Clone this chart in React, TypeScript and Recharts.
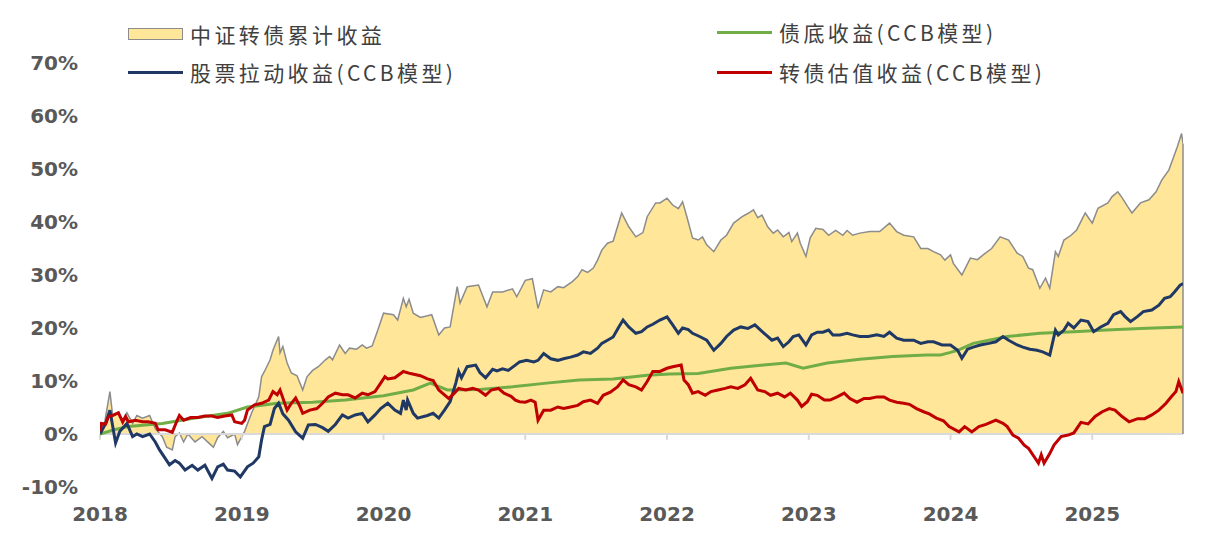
import { ComposedChart, Area, Line, XAxis, YAxis, ReferenceLine, Legend } from "recharts";

// [decimal year, cumulative %]
const cumulative: [number, number][] = [
  [2018.0, 0], [2018.035, 2.5], [2018.07, 8.0], [2018.09, 3.3], [2018.13, 4.0], [2018.16, 2.0],
  [2018.19, 4.0], [2018.23, 2.0], [2018.26, 3.5], [2018.3, 3.0], [2018.35, 3.5], [2018.39, 1.0],
  [2018.44, -0.5], [2018.47, -2.5], [2018.51, -3.0], [2018.53, -0.5], [2018.56, 0.2], [2018.59, -1.5],
  [2018.62, 0], [2018.67, -1.5], [2018.72, -0.5], [2018.78, -2.0], [2018.8, -2.5], [2018.83, -0.7],
  [2018.87, 0.5], [2018.9, -0.7], [2018.95, 0], [2018.97, -2.0], [2019.0, -0.5], [2019.02, 0.5],
  [2019.07, 4.0], [2019.12, 7.0], [2019.14, 10.8], [2019.16, 11.8], [2019.2, 14.0], [2019.22, 15.8],
  [2019.26, 18.4], [2019.27, 15.3], [2019.29, 16.5], [2019.32, 13.4], [2019.35, 11.5], [2019.39, 11.0],
  [2019.43, 8.3], [2019.46, 10.8], [2019.5, 12.0], [2019.54, 12.7], [2019.59, 14.0], [2019.62, 14.6],
  [2019.64, 14.0], [2019.69, 16.8], [2019.73, 15.2], [2019.76, 16.2], [2019.81, 16.0], [2019.85, 16.8],
  [2019.88, 16.2], [2019.92, 16.6], [2019.96, 19.6], [2020.0, 22.8], [2020.07, 22.5], [2020.1, 21.5],
  [2020.14, 25.6], [2020.16, 24.0], [2020.18, 25.4], [2020.21, 22.8], [2020.26, 22.0], [2020.31, 22.3],
  [2020.34, 22.5], [2020.39, 18.7], [2020.43, 20.0], [2020.47, 20.2], [2020.52, 27.8], [2020.54, 24.7],
  [2020.59, 27.8], [2020.67, 28.1], [2020.73, 24.0], [2020.77, 26.8], [2020.84, 26.8], [2020.91, 27.4],
  [2020.94, 25.9], [2021.0, 29.0], [2021.05, 29.3], [2021.09, 23.7], [2021.13, 27.2], [2021.18, 26.8],
  [2021.23, 27.8], [2021.27, 27.6], [2021.33, 28.7], [2021.37, 29.7], [2021.4, 31.0], [2021.44, 30.5],
  [2021.48, 31.3], [2021.51, 32.8], [2021.54, 34.7], [2021.58, 36.0], [2021.62, 36.4], [2021.68, 41.7],
  [2021.73, 39.1], [2021.78, 37.2], [2021.83, 38.0], [2021.86, 41.0], [2021.92, 43.6], [2021.95, 43.6],
  [2022.0, 44.5], [2022.04, 43.2], [2022.08, 42.5], [2022.11, 43.8], [2022.14, 41.0], [2022.18, 37.0],
  [2022.22, 36.6], [2022.25, 37.2], [2022.28, 35.7], [2022.33, 34.4], [2022.38, 36.6], [2022.42, 37.5],
  [2022.47, 39.8], [2022.53, 41.0], [2022.57, 41.6], [2022.61, 42.3], [2022.64, 40.8], [2022.67, 41.3],
  [2022.71, 39.1], [2022.75, 37.9], [2022.78, 38.5], [2022.82, 37.2], [2022.86, 38.0], [2022.88, 36.3],
  [2022.92, 37.9], [2022.94, 36.0], [2022.98, 33.5], [2023.01, 37.0], [2023.05, 38.8], [2023.1, 38.6],
  [2023.14, 37.5], [2023.19, 38.4], [2023.24, 37.5], [2023.27, 38.4], [2023.31, 37.5], [2023.36, 37.9],
  [2023.43, 38.2], [2023.5, 38.2], [2023.57, 39.8], [2023.62, 38.2], [2023.67, 37.5], [2023.74, 37.2],
  [2023.79, 35.0], [2023.84, 35.0], [2023.88, 34.4], [2023.93, 33.8], [2023.96, 32.8], [2024.0, 33.8],
  [2024.02, 32.2], [2024.08, 30.0], [2024.14, 33.2], [2024.19, 32.9], [2024.23, 33.8], [2024.29, 35.0],
  [2024.35, 37.2], [2024.41, 36.6], [2024.47, 34.1], [2024.51, 33.5], [2024.55, 31.3], [2024.58, 31.0],
  [2024.63, 27.5], [2024.67, 29.4], [2024.7, 27.5], [2024.74, 34.4], [2024.76, 33.5], [2024.8, 36.6],
  [2024.85, 37.5], [2024.89, 38.5], [2024.95, 41.7], [2025.0, 39.8], [2025.04, 42.6], [2025.11, 43.6],
  [2025.14, 44.8], [2025.18, 45.7], [2025.21, 44.6], [2025.25, 42.9], [2025.28, 41.7], [2025.34, 43.6],
  [2025.4, 44.2], [2025.45, 45.7], [2025.49, 47.9], [2025.54, 49.8], [2025.57, 52.0], [2025.6, 54.2],
  [2025.63, 56.7], [2025.64, 54.8],
];

const equityPull: [number, number][] = [
  [2018.0, 0], [2018.04, 2.0], [2018.07, 4.5], [2018.11, -1.7], [2018.14, 0.5], [2018.19, 2.0],
  [2018.23, -0.5], [2018.26, 0], [2018.3, -0.5], [2018.35, 0], [2018.39, -1.5], [2018.42, -3.0],
  [2018.46, -4.6], [2018.49, -5.8], [2018.53, -5.0], [2018.56, -5.5], [2018.6, -6.8], [2018.65, -5.9],
  [2018.69, -6.8], [2018.74, -5.9], [2018.79, -8.4], [2018.83, -6.2], [2018.87, -5.7], [2018.9, -6.8],
  [2018.95, -7.0], [2018.99, -8.1], [2019.04, -6.2], [2019.08, -5.5], [2019.12, -4.3], [2019.14, -1.1],
  [2019.16, 1.4], [2019.2, 1.8], [2019.23, 4.8], [2019.26, 5.8], [2019.29, 3.8], [2019.33, 2.6],
  [2019.38, 0.4], [2019.43, -0.8], [2019.47, 1.7], [2019.52, 1.8], [2019.57, 1.2], [2019.61, 0.5],
  [2019.66, 1.8], [2019.71, 3.6], [2019.75, 3.0], [2019.8, 3.6], [2019.85, 3.9], [2019.89, 2.3],
  [2019.94, 3.6], [2019.98, 4.8], [2020.03, 5.8], [2020.08, 4.5], [2020.12, 3.9], [2020.14, 6.4],
  [2020.16, 4.5], [2020.17, 6.4], [2020.21, 3.9], [2020.24, 3.0], [2020.31, 3.5], [2020.35, 3.9],
  [2020.39, 3.0], [2020.43, 4.5], [2020.47, 6.1], [2020.51, 9.6], [2020.53, 11.8], [2020.55, 10.6],
  [2020.59, 12.7], [2020.65, 13.0], [2020.68, 11.6], [2020.72, 10.6], [2020.77, 12.2], [2020.8, 11.9],
  [2020.84, 12.3], [2020.88, 12.0], [2020.93, 13.0], [2020.96, 13.6], [2021.01, 13.9], [2021.06, 13.6],
  [2021.09, 13.9], [2021.13, 15.2], [2021.18, 14.2], [2021.23, 13.9], [2021.27, 14.2], [2021.32, 14.5],
  [2021.37, 14.9], [2021.41, 15.5], [2021.46, 15.2], [2021.51, 16.2], [2021.54, 17.1], [2021.58, 17.7],
  [2021.62, 18.3], [2021.66, 20.2], [2021.69, 21.5], [2021.73, 20.2], [2021.78, 19.0], [2021.82, 19.3],
  [2021.86, 20.2], [2021.9, 20.7], [2021.95, 21.5], [2022.0, 22.1], [2022.04, 20.6], [2022.08, 19.0],
  [2022.11, 20.0], [2022.15, 19.7], [2022.18, 19.0], [2022.23, 18.4], [2022.28, 17.7], [2022.33, 15.8],
  [2022.38, 17.1], [2022.42, 18.4], [2022.47, 19.6], [2022.52, 20.2], [2022.57, 19.9], [2022.62, 20.6],
  [2022.66, 19.6], [2022.71, 18.4], [2022.74, 17.7], [2022.78, 18.1], [2022.82, 16.5], [2022.86, 17.4],
  [2022.89, 18.4], [2022.93, 18.7], [2022.98, 16.8], [2023.02, 18.7], [2023.06, 19.2], [2023.1, 19.2],
  [2023.14, 19.6], [2023.17, 18.7], [2023.22, 18.7], [2023.27, 19.0], [2023.31, 18.7], [2023.36, 18.4],
  [2023.42, 18.4], [2023.48, 18.7], [2023.53, 18.4], [2023.57, 19.2], [2023.62, 18.1], [2023.67, 17.7],
  [2023.74, 17.7], [2023.79, 17.1], [2023.84, 17.4], [2023.88, 17.4], [2023.94, 16.8], [2024.0, 16.8],
  [2024.05, 15.8], [2024.08, 14.3], [2024.12, 16.0], [2024.16, 16.4], [2024.21, 16.8], [2024.27, 17.1],
  [2024.32, 17.4], [2024.37, 18.4], [2024.41, 17.7], [2024.47, 16.8], [2024.51, 16.4], [2024.56, 16.0],
  [2024.61, 15.8], [2024.65, 15.5], [2024.7, 14.9], [2024.74, 19.6], [2024.76, 18.7], [2024.8, 19.6],
  [2024.83, 20.9], [2024.87, 20.0], [2024.92, 21.5], [2024.97, 21.2], [2025.01, 19.3], [2025.06, 20.2],
  [2025.11, 20.9], [2025.15, 22.5], [2025.2, 23.1], [2025.23, 22.2], [2025.27, 21.2], [2025.32, 22.2],
  [2025.36, 23.1], [2025.42, 23.4], [2025.47, 24.3], [2025.51, 25.6], [2025.55, 25.9], [2025.58, 26.8],
  [2025.62, 28.1], [2025.64, 28.4],
];

const bondFloor: [number, number][] = [
  [2018.0, 0], [2018.1, 0.8], [2018.2, 1.4], [2018.44, 2.0], [2018.67, 3.0], [2018.9, 3.9],
  [2019.04, 5.1], [2019.25, 5.8], [2019.5, 6.0], [2019.73, 6.4], [2020.0, 7.2], [2020.21, 8.3],
  [2020.33, 9.6], [2020.45, 8.3], [2020.68, 8.4], [2020.91, 8.9], [2021.15, 9.6], [2021.38, 10.2],
  [2021.62, 10.4], [2021.86, 11.1], [2022.02, 11.3], [2022.22, 11.4], [2022.45, 12.4], [2022.68, 13.0],
  [2022.84, 13.4], [2022.96, 12.4], [2023.13, 13.4], [2023.36, 14.1], [2023.59, 14.6], [2023.83, 14.9],
  [2023.93, 14.9], [2024.0, 15.4], [2024.05, 15.8], [2024.16, 17.1], [2024.4, 18.4], [2024.63, 19.0],
  [2024.87, 19.3], [2025.1, 19.6], [2025.34, 19.9], [2025.64, 20.2],
];

const valuation: [number, number][] = [
  [2018.0, 0.5], [2018.01, 2.0], [2018.04, 1.9], [2018.06, 3.3], [2018.09, 3.5], [2018.13, 4.0],
  [2018.16, 2.3], [2018.18, 3.3], [2018.2, 2.3], [2018.25, 2.6], [2018.3, 2.3], [2018.34, 2.3],
  [2018.39, 2.0], [2018.41, 0.8], [2018.46, 0.8], [2018.51, 0.3], [2018.54, 2.3], [2018.56, 3.5],
  [2018.59, 2.6], [2018.64, 3.1], [2018.69, 3.1], [2018.74, 3.4], [2018.79, 3.4], [2018.83, 3.1],
  [2018.88, 3.4], [2018.93, 3.6], [2018.95, 2.3], [2019.0, 2.0], [2019.02, 2.6], [2019.04, 4.5],
  [2019.09, 5.5], [2019.14, 5.8], [2019.19, 6.4], [2019.22, 8.0], [2019.25, 7.4], [2019.27, 8.3],
  [2019.29, 6.8], [2019.32, 4.5], [2019.35, 5.8], [2019.38, 6.8], [2019.41, 5.2], [2019.43, 3.9],
  [2019.48, 4.5], [2019.53, 4.8], [2019.57, 5.8], [2019.61, 7.0], [2019.66, 7.7], [2019.71, 7.4],
  [2019.75, 7.4], [2019.8, 6.8], [2019.85, 7.7], [2019.89, 7.4], [2019.94, 8.0], [2019.98, 9.6],
  [2020.01, 10.8], [2020.03, 10.4], [2020.08, 10.6], [2020.14, 11.8], [2020.19, 11.4], [2020.26, 11.0],
  [2020.31, 10.4], [2020.35, 10.1], [2020.39, 8.3], [2020.43, 7.4], [2020.46, 6.7], [2020.5, 7.7],
  [2020.53, 8.6], [2020.58, 8.3], [2020.63, 8.6], [2020.67, 8.3], [2020.72, 7.3], [2020.76, 8.3],
  [2020.81, 8.6], [2020.85, 7.7], [2020.9, 7.1], [2020.93, 6.4], [2020.96, 6.1], [2021.0, 6.0],
  [2021.04, 6.4], [2021.07, 6.0], [2021.09, 2.6], [2021.13, 4.5], [2021.18, 4.5], [2021.23, 5.1],
  [2021.27, 4.8], [2021.32, 5.1], [2021.37, 5.4], [2021.41, 6.1], [2021.46, 6.4], [2021.51, 5.8],
  [2021.55, 7.3], [2021.6, 7.9], [2021.65, 8.9], [2021.69, 10.2], [2021.73, 9.3], [2021.78, 8.9],
  [2021.82, 8.3], [2021.86, 9.9], [2021.9, 11.8], [2021.95, 11.8], [2022.0, 12.4], [2022.04, 12.7],
  [2022.1, 13.0], [2022.12, 10.2], [2022.15, 9.3], [2022.18, 7.7], [2022.22, 8.0], [2022.27, 7.3],
  [2022.31, 8.0], [2022.36, 8.3], [2022.41, 8.6], [2022.45, 8.9], [2022.5, 8.6], [2022.55, 9.3],
  [2022.59, 10.5], [2022.64, 8.3], [2022.69, 8.0], [2022.73, 7.3], [2022.78, 7.7], [2022.83, 7.0],
  [2022.87, 7.7], [2022.92, 6.4], [2022.95, 5.2], [2022.99, 6.1], [2023.02, 7.5], [2023.06, 7.3],
  [2023.11, 6.4], [2023.15, 6.4], [2023.2, 7.0], [2023.25, 7.7], [2023.29, 6.7], [2023.34, 6.0],
  [2023.39, 6.7], [2023.43, 6.7], [2023.48, 7.0], [2023.53, 7.0], [2023.57, 6.4], [2023.62, 6.0],
  [2023.67, 5.8], [2023.71, 5.6], [2023.76, 4.8], [2023.81, 4.2], [2023.85, 3.8], [2023.9, 3.0],
  [2023.95, 2.5], [2023.99, 1.4], [2024.06, 0.4], [2024.1, 1.4], [2024.15, 0.4], [2024.2, 1.4],
  [2024.25, 1.8], [2024.32, 2.6], [2024.37, 2.0], [2024.4, 1.4], [2024.44, -0.2], [2024.48, -0.8],
  [2024.52, -2.1], [2024.55, -2.7], [2024.59, -4.3], [2024.62, -5.5], [2024.64, -3.9], [2024.66, -5.5],
  [2024.7, -3.7], [2024.73, -2.1], [2024.78, -0.5], [2024.83, -0.2], [2024.87, 0.2], [2024.92, 2.2],
  [2024.97, 1.9], [2025.02, 3.3], [2025.07, 4.2], [2025.12, 4.8], [2025.16, 4.5], [2025.21, 3.3],
  [2025.26, 2.3], [2025.32, 2.9], [2025.37, 2.9], [2025.42, 3.6], [2025.47, 4.5], [2025.52, 5.8],
  [2025.55, 6.8], [2025.59, 8.0], [2025.61, 9.9], [2025.64, 7.7],
];

const yearTicks = [2018, 2019, 2020, 2021, 2022, 2023, 2024, 2025];
const pctTicks = [-10, 0, 10, 20, 30, 40, 50, 60, 70];

const legendNames = [
  "中证转债累计收益",
  "股票拉动收益(CCB模型)",
  "债底收益(CCB模型)",
  "转债估值收益(CCB模型)",
];

const AREA_FILL = "#FFE699";
const AREA_STROKE = "#8C8C8C";
const BLUE = "#1F3864";
const GREEN = "#70AD47";
const RED = "#C00000";
const TEXT = "#595959";

const toRows = (pts: [number, number][]) => pts.map(([t, v]) => ({ t, v }));

const cumRows = toRows(cumulative);
const lastCum = cumulative[cumulative.length - 1];

function LegendBox() {
  const items = [
    { name: legendNames[0], kind: "area", color: AREA_FILL, left: 120, mid: 26 },
    { name: legendNames[1], kind: "line", color: BLUE, left: 120, mid: 64 },
    { name: legendNames[2], kind: "line", color: GREEN, left: 709, mid: 24 },
    { name: legendNames[3], kind: "line", color: RED, left: 709, mid: 64 },
  ];
  return (
    <div style={{ position: "relative", width: 1190, height: 90 }}>
      {items.map((it) => (
        <div
          key={it.name}
          style={{
            position: "absolute",
            left: it.left,
            top: it.mid - 16,
            height: 32,
            display: "flex",
            alignItems: "center",
            whiteSpace: "nowrap",
          }}
        >
          {it.kind === "area" ? (
            <div
              style={{
                width: 55,
                height: 12,
                background: it.color,
                border: `1.5px solid ${AREA_STROKE}`,
                boxSizing: "border-box",
              }}
            />
          ) : (
            <div style={{ width: 55, height: 3, background: it.color }} />
          )}
          <span
            style={{
              marginLeft: 7,
              fontFamily: '"Noto Sans CJK SC", sans-serif',
              fontSize: 21,
              letterSpacing: 3.4,
              color: "#404040",
            }}
          >
            {it.name}
          </span>
        </div>
      ))}
    </div>
  );
}

export default function App() {
  const tickStyle = {
    fill: TEXT,
    fontSize: 20,
    fontWeight: 700,
    fontFamily: '"DejaVu Sans", Verdana, sans-serif',
  };
  return (
    <ComposedChart
      width={1195}
      height={530}
      margin={{ top: 55, right: 20, left: 0, bottom: 11 }}
    >
      <XAxis
        type="number"
        dataKey="t"
        domain={[2018, 2025.64]}
        ticks={yearTicks}
        allowDataOverflow
        axisLine={false}
        tickLine={false}
        tickSize={0}
        tickMargin={20}
        height={40}
        tick={tickStyle}
      />
      <YAxis
        type="number"
        domain={[-10, 70]}
        ticks={pctTicks}
        tickFormatter={(v: number) => `${v}%`}
        axisLine={false}
        tickLine={false}
        tickSize={0}
        tickMargin={22}
        width={92}
        tick={tickStyle}
      />
      <Legend
        layout="vertical"
        align="center"
        verticalAlign="middle"
        wrapperStyle={{ left: 0, top: 0, width: 1190, height: 90 }}
        content={() => <LegendBox />}
      />
      <Area
        data={cumRows}
        dataKey="v"
        type="linear"
        fill={AREA_FILL}
        fillOpacity={1}
        stroke={AREA_STROKE}
        strokeWidth={1.5}
        baseValue={0}
        isAnimationActive={false}
        dot={false}
        activeDot={false}
      />
      <ReferenceLine y={0} stroke="#D9D9D9" strokeWidth={2} />
      {yearTicks.map((yr) => (
        <ReferenceLine
          key={yr}
          segment={[
            { x: yr, y: 0 },
            { x: yr, y: -1.1 },
          ]}
          stroke="#D9D9D9"
          strokeWidth={2}
        />
      ))}
      <ReferenceLine
        segment={[
          { x: lastCum[0], y: 0 },
          { x: lastCum[0], y: lastCum[1] },
        ]}
        stroke={AREA_STROKE}
        strokeWidth={1.5}
      />
      <Line
        data={toRows(bondFloor)}
        dataKey="v"
        type="linear"
        stroke={GREEN}
        strokeWidth={3}
        dot={false}
        activeDot={false}
        isAnimationActive={false}
      />
      <Line
        data={toRows(equityPull)}
        dataKey="v"
        type="linear"
        stroke={BLUE}
        strokeWidth={3}
        dot={false}
        activeDot={false}
        isAnimationActive={false}
      />
      <Line
        data={toRows(valuation)}
        dataKey="v"
        type="linear"
        stroke={RED}
        strokeWidth={3}
        dot={false}
        activeDot={false}
        isAnimationActive={false}
      />
    </ComposedChart>
  );
}
